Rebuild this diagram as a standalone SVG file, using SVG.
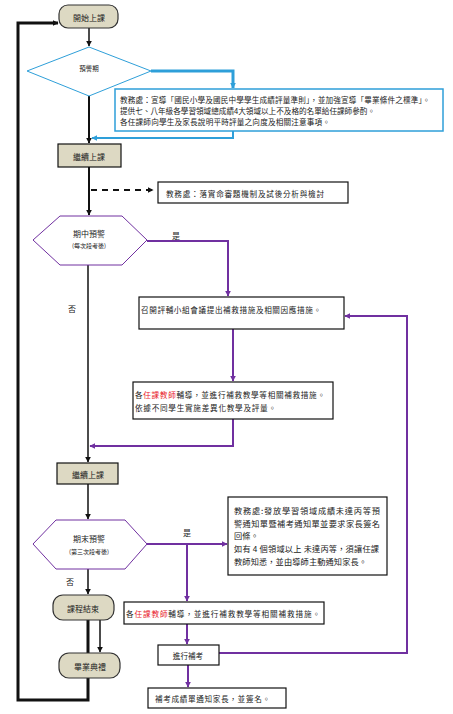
<svg xmlns="http://www.w3.org/2000/svg" width="453" height="714" viewBox="0 0 453 714">
<defs>
<style>
text{font-family:"Noto Sans CJK TC","Noto Sans CJK SC",sans-serif;fill:#222;}
.t{font-size:8px;text-anchor:middle;dominant-baseline:central;}
.s{font-size:7.6px;dominant-baseline:central;}
.term{fill:#ddd9c3;stroke:#333;stroke-width:1.2;}
.proc{fill:#ddd9c3;stroke:#111;stroke-width:1.2;}
.box{fill:#fff;stroke:#111;stroke-width:1.2;}
.c{fill:none;}
.k{stroke:#111;}
.b{stroke:#2e9fd9;}
.p{stroke:#7030a0;}
.red{fill:#e8202a;}
</style>
<marker id="ak" viewBox="0 0 10 10" refX="9" refY="5" markerWidth="6" markerHeight="6" markerUnits="userSpaceOnUse" orient="auto"><path d="M0,0L10,5L0,10z" fill="#111"/></marker>
<marker id="ab" viewBox="0 0 10 10" refX="9" refY="5" markerWidth="6" markerHeight="6" markerUnits="userSpaceOnUse" orient="auto"><path d="M0,0L10,5L0,10z" fill="#2e9fd9"/></marker>
<marker id="ap" viewBox="0 0 10 10" refX="9" refY="5" markerWidth="6" markerHeight="6" markerUnits="userSpaceOnUse" orient="auto"><path d="M0,0L10,5L0,10z" fill="#7030a0"/></marker>
</defs>
<rect width="453" height="714" fill="#fff"/>
<g id="connectors" class="c">
<path class="k" d="M89,28V46" stroke-width="1.5" marker-end="url(#ak)"/>
<path class="k" d="M89,96V143" stroke-width="2" marker-end="url(#ak)"/>
<path class="b" d="M151,71H233V88" stroke-width="3" marker-end="url(#ab)"/>
<path class="b" d="M233,131V138H92" stroke-width="2" marker-end="url(#ab)"/>
<path class="k" d="M89,167V215" stroke-width="2" marker-end="url(#ak)"/>
<path class="k" d="M91,190H153" stroke-width="2" stroke-dasharray="6,5" marker-end="url(#ak)"/>
<path class="p" d="M147,241H228V296" stroke-width="2" marker-end="url(#ap)"/>
<path class="k" d="M88,265V462" stroke-width="1.5" marker-end="url(#ak)"/>
<path class="p" d="M233,329V381" stroke-width="2" marker-end="url(#ap)"/>
<path class="p" d="M233,419V446H90" stroke-width="2" marker-end="url(#ap)"/>
<path class="k" d="M88,484V519" stroke-width="1.5" marker-end="url(#ak)"/>
<path class="p" d="M147,544H227" stroke-width="2" marker-end="url(#ap)"/>
<path class="p" d="M187,544V601" stroke-width="2" marker-end="url(#ap)"/>
<path class="k" d="M88,569V594" stroke-width="1.5" marker-end="url(#ak)"/>
<path class="k" d="M100,620V652" stroke-width="1.5" marker-end="url(#ak)"/>
<path class="k" d="M88,620V700H18V23H58" stroke-width="3" marker-end="url(#ak)"/>
<path class="p" d="M187,624V644" stroke-width="2" marker-end="url(#ap)"/>
<path class="p" d="M219,653H407V316H345" stroke-width="2" marker-end="url(#ap)"/>
<path class="p" d="M188,665V687" stroke-width="2" marker-end="url(#ap)"/>
</g>
<g id="labels">
<text class="t" x="176" y="235">是</text>
<text class="t" x="72" y="308">否</text>
<text class="t" x="187" y="532">是</text>
<text class="t" x="70" y="581">否</text>
</g>
<g id="start">
<rect class="term" x="59" y="5" width="59" height="23" rx="9"/>
<text class="t" x="89" y="17">開始上課</text>
</g>
<g id="warn">
<path d="M89,47L151,71L89,96L27,71z" fill="#fff" stroke="#2e9fd9" stroke-width="1"/>
<text class="t" x="89" y="68" style="font-size:6.5px">預警期</text>
</g>
<g id="note1">
<rect x="115" y="89" width="328" height="42" fill="#fff" stroke="#2e9fd9" stroke-width="1.5"/>
<text class="s" x="120" y="99" textLength="310" lengthAdjust="spacing">教務處：宣導「國民小學及國民中學學生成績評量準則」，並加強宣導「畢業條件之標準」。</text>
<text class="s" x="120" y="110" textLength="255" lengthAdjust="spacing">提供七、八年級各學習領域總成績4大領域以上不及格的名單給任課師參酌。</text>
<text class="s" x="120" y="121" textLength="210" lengthAdjust="spacing">各任課師向學生及家長說明平時評量之向度及相關注意事項。</text>
</g>
<g id="cont1">
<rect class="proc" x="58" y="144" width="63" height="23"/>
<text class="t" x="89" y="156">繼續上課</text>
</g>
<g id="note2">
<rect class="box" x="158" y="182" width="190" height="21"/>
<text class="s" x="166" y="193" textLength="158" lengthAdjust="spacing">教務處：落實命審題機制及試後分析與檢討</text>
</g>
<g id="mid">
<path d="M60,216H122L147,240L122,265H60L33,240z" fill="#fff" stroke="#7030a0" stroke-width="1"/>
<text class="t" x="89" y="233">期中預警</text>
<text class="t" x="89" y="245" style="font-size:6px">(每次段考後)</text>
</g>
<g id="meet">
<rect class="box" x="139" y="297" width="205" height="32"/>
<text class="s" x="141" y="309" textLength="180" lengthAdjust="spacing">召開評輔小組會議提出補救措施及相關因應措施。</text>
</g>
<g id="tutor1">
<rect class="box" x="133" y="382" width="200" height="37"/>
<text class="s" x="135" y="394" textLength="190" lengthAdjust="spacing">各<tspan class="red">任課教師</tspan>輔導，並進行補救教學等相關補救措施。</text>
<text class="s" x="135" y="407" textLength="141" lengthAdjust="spacing">依據不同學生實施差異化教學及評量。</text>
</g>
<g id="cont2">
<rect class="proc" x="57" y="463" width="61" height="21"/>
<text class="t" x="88" y="474">繼續上課</text>
</g>
<g id="final">
<path d="M56,520H125L147,544L125,569H56L33,544z" fill="#fff" stroke="#7030a0" stroke-width="1"/>
<text class="t" x="89" y="538">期末預警</text>
<text class="t" x="89" y="551" style="font-size:6px">(第三次段考後)</text>
</g>
<g id="note3">
<rect class="box" x="228" y="497" width="159" height="78"/>
<text class="s" x="234" y="510" style="font-size:8.2px" textLength="146" lengthAdjust="spacing">教務處:發放學習領域成績未達丙等預</text>
<text class="s" x="234" y="523" style="font-size:8.2px" textLength="146" lengthAdjust="spacing">警通知單暨補考通知單並要求家長簽名</text>
<text class="s" x="234" y="535" style="font-size:8.2px">回條。</text>
<text class="s" x="234" y="548" style="font-size:8.2px" textLength="145" lengthAdjust="spacing">如有 4 個領域以上 未達丙等，須讓任課</text>
<text class="s" x="234" y="561" style="font-size:8.2px" textLength="133" lengthAdjust="spacing">教師知悉，並由導師主動通知家長。</text>
</g>
<g id="end">
<rect class="term" x="53" y="595" width="61" height="25" rx="10"/>
<text class="t" x="83" y="608">課程結束</text>
</g>
<g id="grad">
<rect class="term" x="59" y="653" width="61" height="25" rx="10"/>
<text class="t" x="90" y="666">畢業典禮</text>
</g>
<g id="tutor2">
<rect class="box" x="124" y="602" width="200" height="22"/>
<text class="s" x="126" y="613" textLength="194" lengthAdjust="spacing">各<tspan class="red">任課教師</tspan>輔導，並進行補救教學等相關補救措施。</text>
</g>
<g id="makeup">
<rect class="box" x="158" y="645" width="61" height="20"/>
<text class="t" x="188" y="655" style="font-size:7.6px">進行補考</text>
</g>
<g id="notify">
<rect class="box" x="148" y="688" width="138" height="20"/>
<text class="s" x="155" y="698" textLength="115" lengthAdjust="spacing">補考成績單通知家長，並簽名。</text>
</g>
</svg>
